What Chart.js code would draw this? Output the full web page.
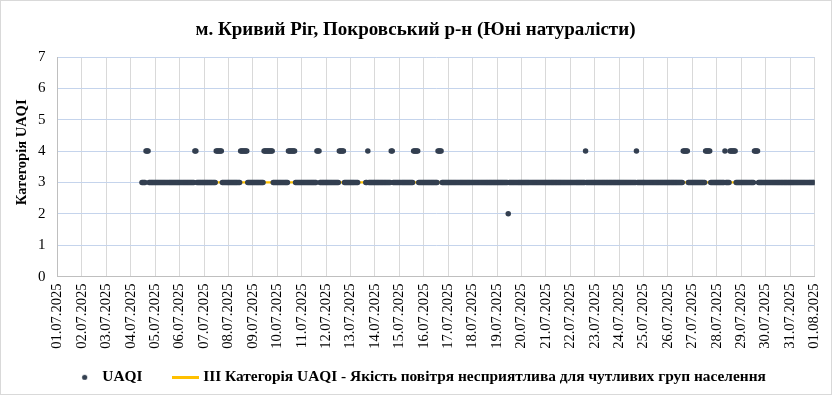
<!DOCTYPE html>
<html>
<head>
<meta charset="utf-8">
<script src="https://cdn.jsdelivr.net/npm/chart.js@4/dist/chart.umd.min.js"></script>
<style>
  html, body { margin: 0; padding: 0; background: #fff; }
  #wrap { width: 832px; height: 395px; }
</style>
</head>
<body>
<div id="wrap"><canvas id="c" width="832" height="395"></canvas></div>
<script>
// ---- data ----
const chartTitle = 'м. Кривий Ріг, Покровський р-н (Юні натуралісти)';
const yTitle = 'Категорія UAQI';
const seriesNames = ['UAQI', 'III Категорія UAQI - Якість повітря несприятлива для чутливих груп населення'];

// x tick labels, one per day (hour 0, 24, 48, ... from 01.07.2025 00:00)
const dateLabels = [
  '01.07.2025','02.07.2025','03.07.2025','04.07.2025','05.07.2025','06.07.2025','07.07.2025','08.07.2025',
  '09.07.2025','10.07.2025','11.07.2025','12.07.2025','13.07.2025','14.07.2025','15.07.2025','16.07.2025',
  '17.07.2025','18.07.2025','19.07.2025','20.07.2025','21.07.2025','22.07.2025','23.07.2025','24.07.2025',
  '25.07.2025','26.07.2025','27.07.2025','28.07.2025','29.07.2025','30.07.2025','31.07.2025','01.08.2025'
];

// hourly UAQI category; first value is at hour 83 (04.07.2025 11:00)
const firstHour = 83;
const uaqi = [
  // 04.07 (11:00-23:00)
  3,3,3,3,4,4, 4,3,3,3,3,3, 3,
  // 05.07
  3,3,3,3,3,3, 3,3,3,3,3,3, 3,3,3,3,3,3, 3,3,3,3,3,3,
  // 06.07
  3,3,3,3,3,3, 3,3,3,3,3,3, 3,3,3,4,4,3, 3,3,3,3,3,3,
  // 07.07
  3,3,3,3,3,3, 3,3,3,3,3,3, 4,4,4,4,4,4, 3,3,3,3,3,3,
  // 08.07
  3,3,3,3,3,3, 3,3,3,3,3,3, 4,4,4,4,4,4, 4,3,3,3,3,3,
  // 09.07
  3,3,3,3,3,3, 3,3,3,3,3,4, 4,4,4,4,4,4, 4,4,3,3,3,3,
  // 10.07
  3,3,3,3,3,3, 3,3,3,3,3,4, 4,4,4,4,4,4, 3,3,3,3,3,3,
  // 11.07
  3,3,3,3,3,3, 3,3,3,3,3,3, 3,3,3,4,4,4, 3,3,3,3,3,3,
  // 12.07
  3,3,3,3,3,3, 3,3,3,3,3,3, 3,4,4,4,4,4, 3,3,3,3,3,3,
  // 13.07
  3,3,3,3,3,3, 3,3,null,null,null,null, null,null,null,3,3,4, 3,3,3,3,3,3,
  // 14.07
  3,3,3,3,3,3, 3,3,3,3,3,3, 3,3,3,3,4,4, 3,3,3,3,3,3,
  // 15.07
  3,3,3,3,3,3, 3,3,3,3,3,3, 3,3,4,4,4,4, 4,3,3,3,3,3,
  // 16.07
  3,3,3,3,3,3, 3,3,3,3,3,3, 3,3,4,4,4,4, 3,3,3,3,3,3,
  // 17.07
  3,3,3,3,3,3, 3,3,3,3,3,3, 3,3,3,3,3,3, 3,3,3,3,3,3,
  // 18.07
  3,3,3,3,3,3, 3,3,3,3,3,3, 3,3,3,3,3,3, 3,3,3,3,3,3,
  // 19.07
  3,3,3,3,3,3, 3,3,3,3,3,2, 3,3,3,3,3,3, 3,3,3,3,3,3,
  // 20.07
  3,3,3,3,3,3, 3,3,3,3,3,3, 3,3,3,3,3,3, 3,3,3,3,3,3,
  // 21.07
  3,3,3,3,3,3, 3,3,3,3,3,3, 3,3,3,3,3,3, 3,3,3,3,3,3,
  // 22.07
  3,3,3,3,3,3, 3,3,3,3,3,3, 3,3,3,4,3,3, 3,3,3,3,3,3,
  // 23.07
  3,3,3,3,3,3, 3,3,3,3,3,3, 3,3,3,3,3,3, 3,3,3,3,3,3,
  // 24.07
  3,3,3,3,3,3, 3,3,3,3,3,3, 3,3,3,3,3,4, 3,3,3,3,3,3,
  // 25.07
  3,3,3,3,3,3, 3,3,3,3,3,3, 3,3,3,3,3,3, 3,3,3,3,3,3,
  // 26.07
  3,3,3,3,3,3, 3,3,3,3,3,3, 3,3,3,4,4,4, 4,4,3,3,3,3,
  // 27.07
  3,3,3,3,3,3, 3,3,3,3,3,3, 3,4,4,4,4,4, 3,3,3,3,3,3,
  // 28.07
  3,3,3,3,3,3, 3,3,4,3,3,3, 3,4,4,4,4,4, 4,3,3,3,3,3,
  // 29.07
  3,3,3,3,3,3, 3,3,3,3,3,3, 3,4,4,4,4,3, 3,3,3,3,3,3,
  // 30.07
  3,3,3,3,3,3, 3,3,3,3,3,3, 3,3,3,3,3,3, 3,3,3,3,3,3,
  // 31.07
  3,3,3,3,3,3, 3,3,3,3,3,3, 3,3,3,3,3,3, 3,3,3,3,3,3,
  // 01.08 00:00
  3
];

// threshold series (category III) spans the measured period
const thresholdValue = 3;

// ---- styles ----
const SERIF = "'Liberation Serif', 'Times New Roman', serif";
const DOT = '#333f50';
const YELLOW = '#ffc000';

const uaqiPoints = uaqi.map((v, i) => ({ x: firstHour + i, y: v }));
const lastHour = firstHour + uaqi.length - 1;
const thresholdPoints = [{ x: firstHour, y: thresholdValue }, { x: lastHour, y: thresholdValue }];

function makeDot() {
  const c = document.createElement('canvas');
  c.width = 7; c.height = 7;
  const g = c.getContext('2d');
  g.fillStyle = DOT;
  g.beginPath(); g.arc(3.5, 3.5, 2.6, 0, Math.PI * 2); g.fill();
  return c;
}
function makeLine() {
  const c = document.createElement('canvas');
  c.width = 27; c.height = 3;
  const g = c.getContext('2d');
  g.fillStyle = YELLOW;
  g.fillRect(0, 0, 27, 3);
  return c;
}
const legendIcons = [makeDot(), makeLine()];

const framePlugin = {
  id: 'frame',
  afterLayout(chart) {
    // let the rotated date labels extend below the x-axis box
    const xs = chart.scales.x;
    if (xs) xs.bottom = chart.height;
  },
  beforeDraw(chart) {
    const ctx = chart.ctx;
    ctx.save();
    ctx.fillStyle = '#fff';
    ctx.fillRect(0, 0, chart.width, chart.height);
    ctx.restore();
  },
  afterDraw(chart) {
    const ctx = chart.ctx;
    ctx.save();
    ctx.strokeStyle = '#d9d9d9';
    ctx.lineWidth = 1;
    ctx.strokeRect(0.5, 0.5, chart.width - 1, chart.height - 1);
    ctx.restore();
  }
};

new Chart(document.getElementById('c'), {
  type: 'scatter',
  data: {
    datasets: [
      {
        label: seriesNames[0],
        data: uaqiPoints,
        backgroundColor: DOT,
        borderColor: DOT,
        pointRadius: 2.75,
        pointBorderWidth: 0,
        showLine: false
      },
      {
        label: seriesNames[1],
        data: thresholdPoints,
        borderColor: YELLOW,
        backgroundColor: YELLOW,
        borderWidth: 2.25,
        pointRadius: 0,
        showLine: true
      }
    ]
  },
  options: {
    responsive: false,
    animation: false,
    events: [],
    layout: { padding: { left: 26, right: 17.5, top: 0, bottom: 0 } },
    plugins: {
      title: {
        display: true,
        text: chartTitle + '\u2002',
        color: '#000',
        font: { family: SERIF, size: 19, weight: 'bold' },
        padding: { top: 18.6, bottom: 15.6 }
      },
      legend: {
        display: true,
        position: 'bottom',
        maxHeight: 60,
        labels: {
          usePointStyle: true,
          pointStyleWidth: 20,
          padding: 33,
          color: '#000',
          font: { family: SERIF, size: 15.4, weight: 'bold' },
          generateLabels(chart) {
            return chart.data.datasets.map((ds, i) => ({
              text: ds.label,
              pointStyle: legendIcons[i],
              fillStyle: i === 0 ? DOT : YELLOW,
              strokeStyle: i === 0 ? DOT : YELLOW,
              lineWidth: 0,
              hidden: false,
              datasetIndex: i
            }));
          }
        }
      },
      tooltip: { enabled: false }
    },
    scales: {
      x: {
        type: 'linear',
        min: 0,
        max: 744,
        afterFit(scale) {
          scale.height = 60;
          scale.paddingLeft = 0;
          scale.paddingRight = 0;
        },
        ticks: {
          stepSize: 24,
          autoSkip: false,
          maxRotation: 90,
          minRotation: 90,
          padding: 7,
          color: '#000',
          font: { family: SERIF, size: 14.5 },
          callback: (v) => dateLabels[Math.round(v / 24)]
        },
        grid: { color: '#d9d9d9', lineWidth: 1, drawTicks: false },
        border: { color: '#bfbfbf', width: 1 }
      },
      y: {
        min: 0,
        max: 7,
        afterFit(scale) { scale.width = 31.5; },
        ticks: {
          stepSize: 1,
          padding: 12,
          color: '#000',
          font: { family: SERIF, size: 15 }
        },
        grid: { color: '#c5d4ec', lineWidth: 1, drawTicks: false },
        border: { color: '#bfbfbf', width: 1 },
        title: {
          display: true,
          text: '\u2002\u2002\u2002\u2002' + yTitle,
          color: '#000',
          font: { family: SERIF, size: 14.5, weight: 'bold' },
          padding: { top: -12.7, bottom: 0 }
        }
      }
    }
  },
  plugins: [framePlugin]
});
</script>
</body>
</html>
